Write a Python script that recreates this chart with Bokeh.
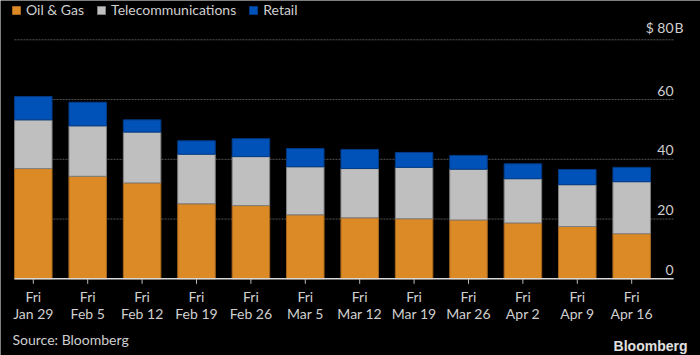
import math
from bokeh.plotting import figure
from bokeh.models import ColumnDataSource, Range1d, Legend, LegendItem, Label
from bokeh.core.properties import value
from bokeh.embed import file_html
from bokeh.resources import INLINE

dates = ["Jan 29", "Feb 5", "Feb 12", "Feb 19", "Feb 26", "Mar 5",
         "Mar 12", "Mar 19", "Mar 26", "Apr 2", "Apr 9", "Apr 16"]
weekday = "Fri"
oil_gas = [36.9, 34.3, 32.1, 25.1, 24.5, 21.4, 20.4, 20.1, 19.7, 18.7, 17.5, 15.1]
telecom = [16.3, 16.9, 17.0, 16.6, 16.4, 16.1, 16.5, 17.2, 17.0, 14.8, 14.0, 17.4]
retail = [7.8, 7.9, 4.1, 4.5, 6.0, 6.1, 6.4, 5.0, 4.6, 5.0, 5.1, 4.8]
series = ["Oil & Gas", "Telecommunications", "Retail"]
y_ticks = [0, 20, 40, 60, 80]
y_labels = ["0", "20", "40", "60", "$ 80"]

FONT = "Lato"
TXT = "#cfcfcf"

xs = list(range(len(dates)))
n = len(dates)
plot_x0, plot_x1 = -0.346, n - 1 + 0.77   # extent of the chart area in data units
src = ColumnDataSource(dict(x=xs, oil=oil_gas, tel=telecom, ret=retail,
                            wd=[weekday] * n, d=dates, zero=[0] * n))

p = figure(width=700, height=355, output_backend="svg", toolbar_location=None,
           x_range=Range1d(-0.603, 12.265), y_range=Range1d(-25.67, 93.15),
           x_axis_location=None, y_axis_location=None,
           min_border=0)
p.background_fill_color = "black"
p.border_fill_color = "black"
p.outline_line_color = None
p.xgrid.visible = False
p.ygrid.visible = False

# grid lines across the chart area
grid_y = y_ticks[1:]
p.segment(x0=[plot_x0] * len(grid_y), x1=[plot_x1] * len(grid_y), y0=grid_y, y1=grid_y,
          line_color="#555555", line_dash="2 1", line_width=1)

# ticks
p.ray(x="x", y="zero", length=5, length_units="screen", angle=-math.pi / 2,
      line_color="#bbbbbb", line_width=1, source=src)

r = p.vbar_stack(["oil", "tel", "ret"], x="x", width=0.69, source=src,
                 fill_color=["#dc8a26", "#bfbfbf", "#0052b9"],
                 line_color=["#a8671c", "#7f7f7f", "#003a85"], line_width=1)

# axis line
p.segment(x0=[plot_x0], x1=[plot_x1], y0=[0], y1=[0], line_color="#d8d8d8", line_width=1.5)

# x tick labels
p.text(x="x", y="zero", text="wd", source=src, text_align="center", text_baseline="middle",
       y_offset=18, text_color=TXT, text_font=value(FONT), text_font_size="14px")
p.text(x="x", y="zero", text="d", source=src, text_align="center", text_baseline="middle",
       y_offset=35, text_color=TXT, text_font=value(FONT), text_font_size="14px")

# y labels
p.text(x=[plot_x1] * len(y_ticks), y=y_ticks, text=y_labels, text_align="right",
       text_baseline="bottom", y_offset=-4, text_color=TXT, text_font=value(FONT),
       text_font_size="14px")
p.text(x=[plot_x1], y=[y_ticks[-1]], text=["B"], text_align="left", text_baseline="bottom",
       x_offset=1, y_offset=-4, text_color=TXT, text_font=value(FONT), text_font_size="14px")

legend = Legend(items=[LegendItem(label=s, renderers=[rr]) for s, rr in zip(series, r)],
                location=(11, 337), orientation="horizontal", margin=0, padding=3,
                spacing=12, label_standoff=5, glyph_width=10, glyph_height=10,
                background_fill_alpha=0, border_line_color=None,
                label_text_color=TXT, label_text_font=FONT, label_text_font_size="14px")
p.add_layout(legend, "center")

p.add_layout(Label(x=12, y=16, x_units="screen", y_units="screen", text="Source: Bloomberg",
                   text_color=TXT, text_font=FONT, text_font_size="14px", text_baseline="middle"))
p.add_layout(Label(x=687, y=10, x_units="screen", y_units="screen", text="Bloomberg",
                   text_color="#e0e0e0", text_font="Liberation Sans", text_font_style="bold",
                   text_font_size="14px", text_align="right", text_baseline="middle"))

open("out.html", "w").write(file_html(p, INLINE))
